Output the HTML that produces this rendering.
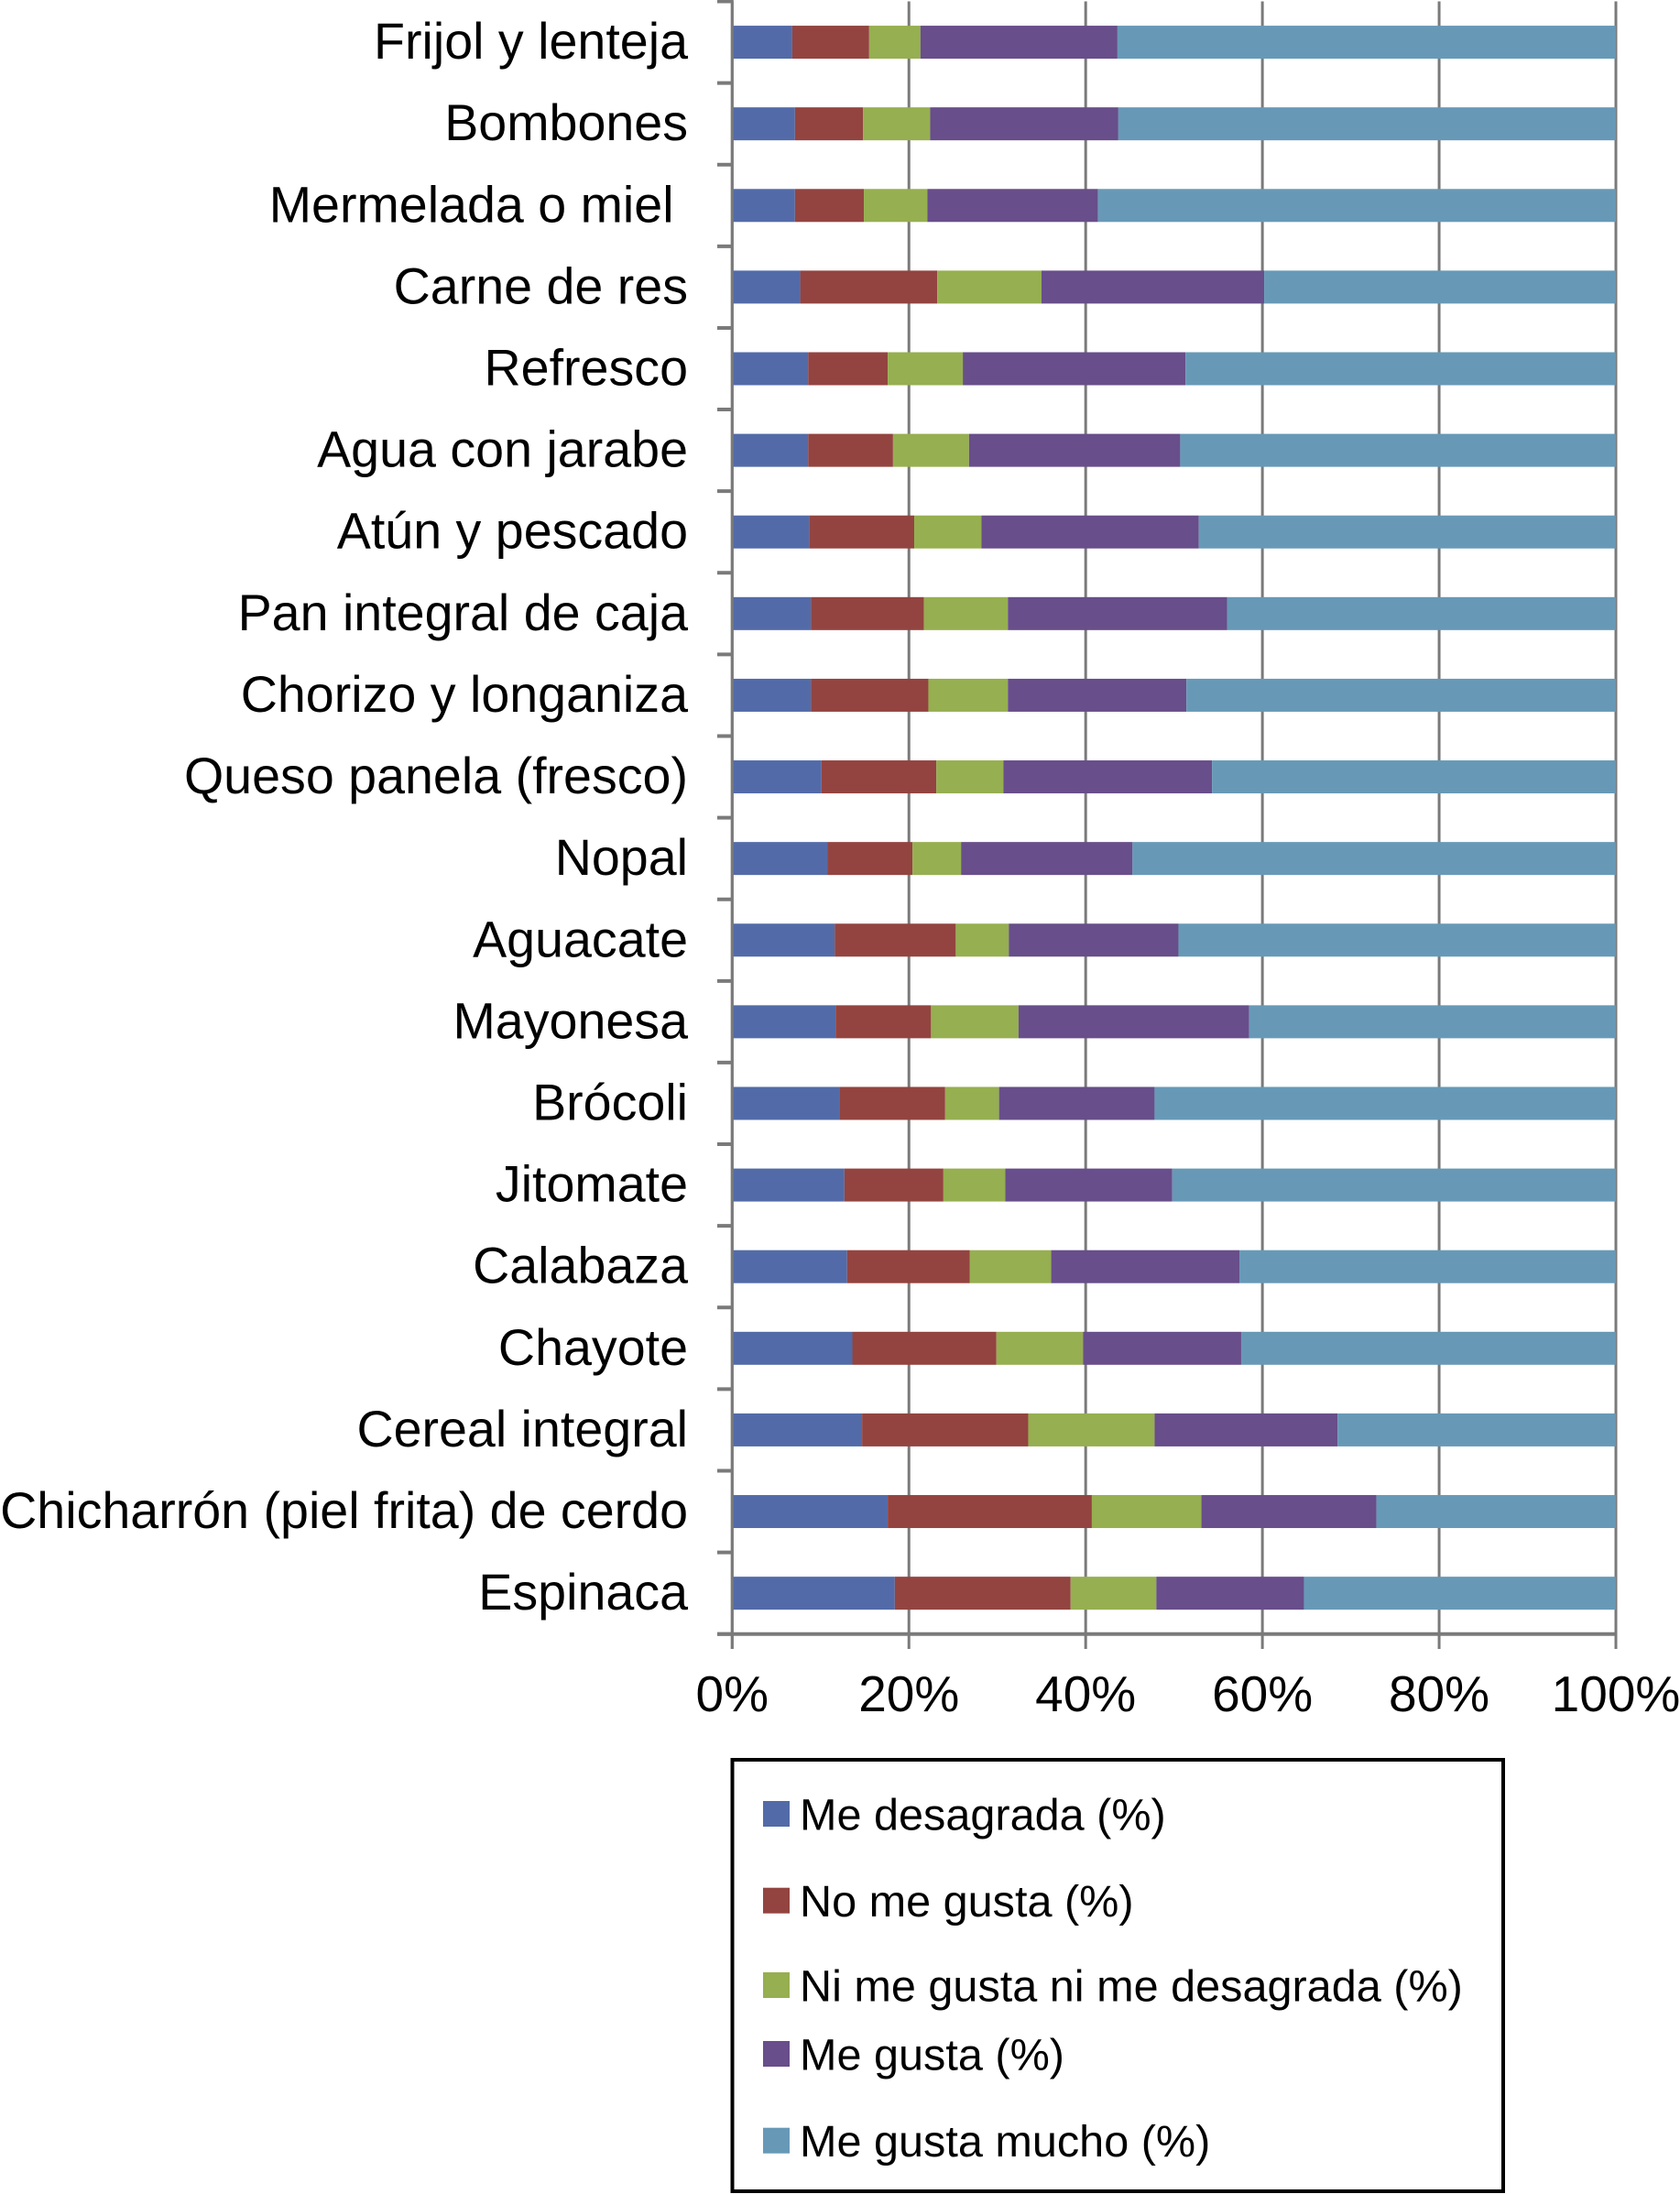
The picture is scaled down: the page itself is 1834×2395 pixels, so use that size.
<!DOCTYPE html>
<html lang="es">
<head>
<meta charset="utf-8">
<title>Preferencias de alimentos</title>
<style>
html,body{margin:0;padding:0;background:#fff;}
svg{display:block;}
text{font-family:"Liberation Sans",sans-serif;fill:#000;white-space:pre;}
</style>
</head>
<body>
<svg id="chart" xmlns="http://www.w3.org/2000/svg" width="1834" height="2395" viewBox="0 0 1834 2395">
  <rect x="0" y="0" width="1834" height="2395" fill="#ffffff"/>
  <g id="grid"></g>
  <g id="bars"></g>
  <g id="axes"></g>
  <g id="ylabels"></g>
  <g id="xlabels"></g>
  <g id="legend"></g>
</svg>
<script>
const categories = ["Frijol y lenteja","Bombones","Mermelada o miel ","Carne de res","Refresco","Agua con jarabe","Atún y pescado","Pan integral de caja","Chorizo y longaniza","Queso panela (fresco)","Nopal","Aguacate","Mayonesa","Brócoli","Jitomate","Calabaza","Chayote","Cereal integral","Chicharrón (piel frita) de cerdo","Espinaca"];
const meDesagrada = [6.8,7.1,7.1,7.7,8.6,8.6,8.7,8.9,8.9,10.1,10.8,11.6,11.7,12.2,12.7,13.0,13.6,14.7,17.6,18.4];
const noMeGusta = [8.7,7.7,7.8,15.5,9.0,9.6,11.9,12.8,13.3,13.0,9.6,13.7,10.8,11.9,11.2,13.9,16.3,18.8,23.1,19.9];
const niNi = [5.8,7.6,7.2,11.8,8.5,8.6,7.6,9.5,9.0,7.6,5.5,6.0,9.9,6.1,7.0,9.2,9.8,14.3,12.4,9.7];
const meGusta = [22.3,21.3,19.3,25.2,25.2,23.9,24.6,24.8,20.2,23.6,19.4,19.2,26.1,17.6,18.9,21.3,17.9,20.7,19.8,16.7];
const meGustaMucho = [56.4,56.3,58.6,39.8,48.7,49.3,47.2,44.0,48.6,45.7,54.7,49.5,41.5,52.2,50.2,42.6,42.4,31.5,27.1,35.3];
const xTicks = [0,20,40,60,80,100];
const seriesNames = ["Me desagrada (%)","No me gusta (%)","Ni me gusta ni me desagrada (%)","Me gusta (%)","Me gusta mucho (%)"];
const seriesValues = [meDesagrada,noMeGusta,niNi,meGusta,meGustaMucho];
const seriesColors = ["#526ba8","#934440","#96af50","#684e8a","#6799b7"];
const seriesKeys = ["me-desagrada","no-me-gusta","ni-me-gusta-ni-me-desagrada","me-gusta","me-gusta-mucho"];

const NS = "http://www.w3.org/2000/svg";
const plotLeft = 799.3, plotRight = 1764, plotTop = 1.5, plotBottom = 1783.7;
const rowH = (plotBottom - plotTop) / categories.length;
const barH = 36;
const axisColor = "#7a7a7a";

function xScale(v){ return plotLeft + (plotRight - plotLeft) * v / 100; }
function rowCenter(i){ return plotTop + rowH * (i + 0.5); }
function make(tag, attrs, parent){
  const el = document.createElementNS(NS, tag);
  for (const k in attrs) el.setAttribute(k, attrs[k]);
  parent.appendChild(el);
  return el;
}
function slug(s){
  return s.trim().toLowerCase().normalize("NFD").replace(/[\u0300-\u036f]/g,"").replace(/[^a-z0-9]+/g,"-").replace(/^-|-$/g,"");
}

const grid = document.getElementById("grid");
const bars = document.getElementById("bars");
const axes = document.getElementById("axes");
const ylabels = document.getElementById("ylabels");
const xlabels = document.getElementById("xlabels");
const legend = document.getElementById("legend");

xTicks.forEach(function(t){
  const x = xScale(t);
  const line = make("line", {x1:x, x2:x, y1:plotTop, y2:1800, stroke:axisColor, "stroke-width":3}, grid);
  
  
  const lab = make("text", {x:x, y:1868, "text-anchor":"middle", "font-size":55}, xlabels);
  lab.textContent = t + "%";
  
  
});

categories.forEach(function(c, i){
  const cy = rowCenter(i);
  let cum = 0;
  seriesValues.forEach(function(vals, s){
    const v = vals[i];
    const x0 = xScale(cum);
    const x1 = xScale(cum + v);
    const r = make("rect", {x:x0, y:cy - barH/2, width:x1 - x0, height:barH, fill:seriesColors[s]}, bars);
    
    
    cum += v;
  });
  const lab = make("text", {x:751, y:cy + 18, "text-anchor":"end", "font-size":55.6}, ylabels);
  lab.textContent = c;
  
  
});

for (let i = 0; i <= categories.length; i++){
  const y = plotTop + rowH * i;
  const tick = make("line", {x1:783, x2:plotLeft, y1:y, y2:y, stroke:axisColor, "stroke-width":4}, axes);
  
  
}
const yAxis = make("line", {x1:plotLeft, x2:plotLeft, y1:0, y2:1800, stroke:axisColor, "stroke-width":3}, axes);


const xAxis = make("line", {x1:783, x2:plotRight, y1:plotBottom, y2:plotBottom, stroke:axisColor, "stroke-width":4}, axes);



const legendBox = make("rect", {x:799.5, y:1921, width:841.5, height:471, fill:"#ffffff", stroke:"#000000", "stroke-width":4}, legend);


const legendSwatchTop = [1966, 2060.7, 2153, 2228, 2322.7];
seriesNames.forEach(function(n, s){
  const top = legendSwatchTop[s];
  const sw = make("rect", {x:833, y:top, width:29, height:28, fill:seriesColors[s]}, legend);
  
  
  const tx = make("text", {x:873, y:top + 31.5, "font-size":48.6}, legend);
  tx.textContent = n;
  
  
});
</script>
</body>
</html>
